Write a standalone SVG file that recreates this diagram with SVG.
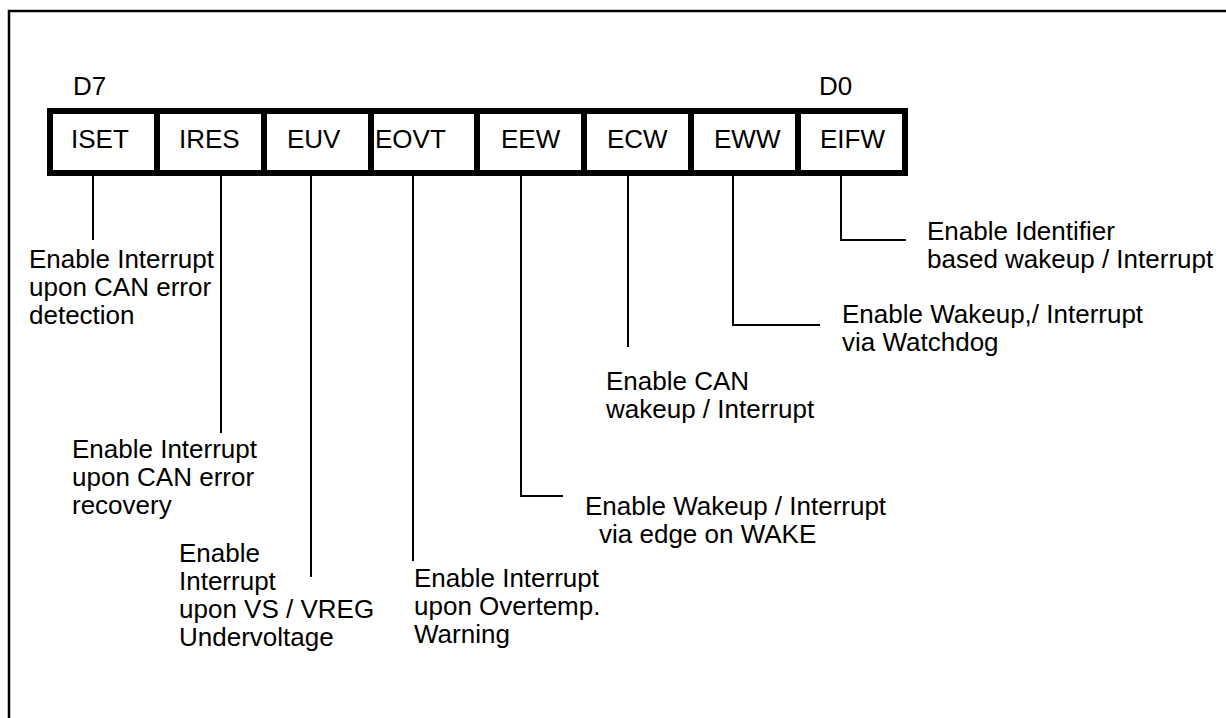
<svg xmlns="http://www.w3.org/2000/svg" width="1226" height="718" viewBox="0 0 1226 718">
<style>
text{font-family:"Liberation Sans",Arial,sans-serif;font-size:26px;fill:#000}
.cell{fill:#fff;stroke:#000;stroke-width:6}
.div{stroke:#000;stroke-width:6}
.con{fill:none;stroke:#000;stroke-width:2}
</style>
<rect width="1226" height="718" fill="#fff"/>
<path d="M9,718 V11 H1226" fill="none" stroke="#000" stroke-width="2.5"/>
<text x="73" y="95">D7</text>
<text x="819" y="95">D0</text>
<g id="register">
<rect class="cell" x="50" y="111" width="855" height="62"/>
<line class="div" x1="157" y1="111" x2="157" y2="173"/>
<line class="div" x1="264" y1="111" x2="264" y2="173"/>
<line class="div" x1="371" y1="111" x2="371" y2="173"/>
<line class="div" x1="477" y1="111" x2="477" y2="173"/>
<line class="div" x1="584" y1="111" x2="584" y2="173"/>
<line class="div" x1="691" y1="111" x2="691" y2="173"/>
<line class="div" x1="798" y1="111" x2="798" y2="173"/>
</g>
<g id="ISET"><text x="71" y="148">ISET</text></g>
<g id="IRES"><text x="179" y="148">IRES</text></g>
<g id="EUV"><text x="287" y="148">EUV</text></g>
<g id="EOVT"><text x="375" y="148">EOVT</text></g>
<g id="EEW"><text x="501" y="148">EEW</text></g>
<g id="ECW"><text x="607" y="148">ECW</text></g>
<g id="EWW"><text x="714" y="148">EWW</text></g>
<g id="EIFW"><text x="820" y="148">EIFW</text></g>
<g id="connectors">
<path class="con" d="M93,176 V240"/>
<path class="con" d="M221,176 V433"/>
<path class="con" d="M311,176 V577"/>
<path class="con" d="M413,176 V561"/>
<path class="con" d="M521,176 V496 H563"/>
<path class="con" d="M628,176 V347"/>
<path class="con" d="M733,176 V325 H820"/>
<path class="con" d="M841,176 V240 H906"/>
</g>
<g id="desc-ISET"><text x="29" y="268">Enable Interrupt</text><text x="29" y="296">upon CAN error</text><text x="29" y="324">detection</text></g>
<g id="desc-IRES"><text x="72" y="458">Enable Interrupt</text><text x="72" y="486">upon CAN error</text><text x="72" y="514">recovery</text></g>
<g id="desc-EUV"><text x="179" y="562">Enable</text><text x="179" y="590">Interrupt</text><text x="179" y="618">upon VS / VREG</text><text x="179" y="646">Undervoltage</text></g>
<g id="desc-EOVT"><text x="414" y="587">Enable Interrupt</text><text x="414" y="615">upon Overtemp.</text><text x="414" y="643">Warning</text></g>
<g id="desc-EEW"><text x="585" y="515">Enable Wakeup / Interrupt</text><text x="599" y="543">via edge on WAKE</text></g>
<g id="desc-ECW"><text x="606" y="390">Enable CAN</text><text x="606" y="418">wakeup / Interrupt</text></g>
<g id="desc-EWW"><text x="842" y="323">Enable Wakeup,/ Interrupt</text><text x="842" y="351">via Watchdog</text></g>
<g id="desc-EIFW"><text x="927" y="240">Enable Identifier</text><text x="927" y="268">based wakeup / Interrupt</text></g>
</svg>
